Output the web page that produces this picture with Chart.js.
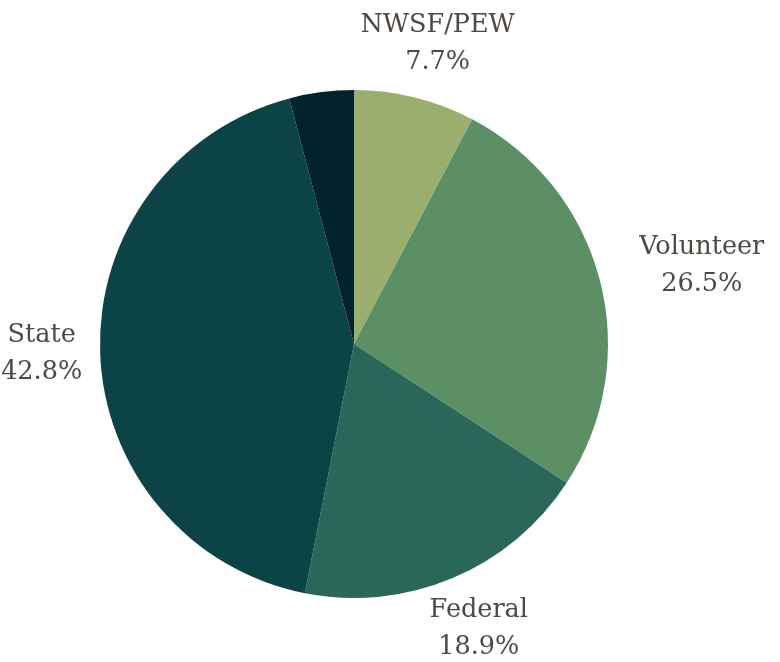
<!DOCTYPE html>
<html>
<head>
<meta charset="utf-8">
<script src="https://cdn.jsdelivr.net/npm/chart.js@4"></script>
<style>
  html, body { margin: 0; padding: 0; background: #fff; }
  #wrap { width: 780px; height: 662px; }
</style>
</head>
<body>
<div id="wrap"><canvas id="pie"></canvas></div>
<script>
  // ── Data ──────────────────────────────────────────────
  const labels = ["NWSF/PEW", "Volunteer", "Federal", "State", ""];
  const shares = [7.7, 26.5, 18.9, 42.8, 4.1];
  const colors = ["#9aae6e", "#5d8f65", "#2b6758", "#0c4346", "#02232d"];

  const FONT = "25.5px 'DejaVu Serif', serif";
  const LINE_H = 37;
  const GAP = 18;
  const RIGHT_EXTRA = 24; // labels on the right side sit a bit further out

  // draws "Label / xx.x%" outside each slice
  const outsideLabels = {
    id: "outsideLabels",
    afterDatasetsDraw(chart) {
      const ctx = chart.ctx;
      const meta = chart.getDatasetMeta(0);
      ctx.save();
      ctx.font = FONT;
      ctx.fillStyle = "#4f4843";
      ctx.textAlign = "center";
      ctx.textBaseline = "middle";
      meta.data.forEach((arc, i) => {
        if (!labels[i]) return;
        const mid = (arc.startAngle + arc.endAngle) / 2;
        const ux = Math.cos(mid), uy = Math.sin(mid);
        const lines = [labels[i], shares[i].toFixed(1) + "%"];
        const w = Math.max(...lines.map((t) => ctx.measureText(t).width));
        const h = LINE_H * lines.length;
        const r = arc.outerRadius + GAP;
        let cx = arc.x + ux * r + ux * w / 2;
        if (ux > 0.8) cx += RIGHT_EXTRA;
        const cy = arc.y + uy * r + uy * h / 2;
        lines.forEach((t, k) => {
          ctx.fillText(t, cx, cy + (k - (lines.length - 1) / 2) * LINE_H);
        });
      });
      ctx.restore();
    },
  };

  new Chart(document.getElementById("pie"), {
    type: "pie",
    data: {
      labels: labels,
      datasets: [{
        data: shares,
        backgroundColor: colors,
        borderWidth: 0,
      }],
    },
    options: {
      responsive: true,
      maintainAspectRatio: false,
      animation: false,
      layout: { padding: { top: 90, bottom: 64, left: 100, right: 172 } },
      plugins: {
        legend: { display: false },
        tooltip: { enabled: false },
      },
    },
    plugins: [outsideLabels],
  });
</script>
</body>
</html>
